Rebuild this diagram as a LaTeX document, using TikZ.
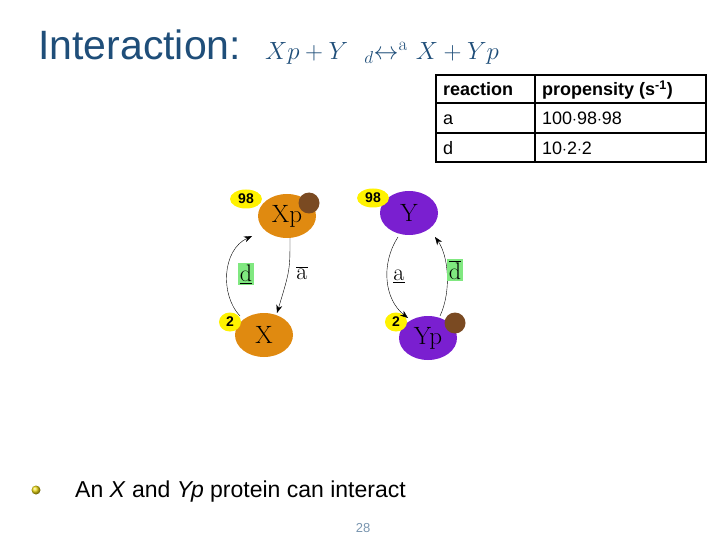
\documentclass[tikz,border=0pt]{standalone}
\usepackage{fontspec}
\setsansfont{Liberation Sans}
\usetikzlibrary{shapes.geometric,arrows.meta}
\definecolor{ttl}{HTML}{1F4E79}
\definecolor{org}{HTML}{E08A10}
\definecolor{pur}{HTML}{7A1FD0}
\definecolor{brn}{HTML}{7A4A22}
\definecolor{grn}{HTML}{80E880}
\begin{document}
\begin{tikzpicture}[x=1pt,y=-1pt,
 prot/.style={ellipse,minimum width=58pt,minimum height=44pt,inner sep=0pt,font=\fontsize{25}{25}\selectfont},
 cnt/.style={ellipse,fill=yellow,minimum width=32pt,minimum height=19pt,inner sep=0pt,font=\sffamily\bfseries\fontsize{14}{14}\selectfont},
 ball/.style={circle,fill=brn,minimum size=21pt,inner sep=0pt},
 arr/.style={-{Stealth[length=8pt,width=6pt]},thin},
 lab/.style={font=\fontsize{24}{24}\selectfont,inner sep=2pt},
 cell/.style={font=\sffamily\fontsize{18}{18}\selectfont,anchor=base west,inner sep=0pt}]
\useasboundingbox (0,0) rectangle (720,540);
\node[anchor=base west,text=ttl,font=\sffamily\fontsize{41}{41}\selectfont,inner sep=0] (t) at (38,60) {Interaction:};
\node[anchor=base west,text=ttl,font=\fontsize{27}{27}\selectfont,inner sep=0] (f) at (265,60) {$Xp+Y\ \ _{d}{\leftrightarrow}^{\mathrm{a}}\ X+Yp$};
% table
\draw[line width=1.5pt] (436,75) rectangle (706,162);
\draw[line width=1.2pt] (436,103)--(706,103) (436,133)--(706,133) (535,75)--(535,162);
\node[cell,font=\sffamily\bfseries\fontsize{18}{18}\selectfont] (r0) at (443,96) {reaction};
\node[cell,font=\sffamily\bfseries\fontsize{18}{18}\selectfont] (p0) at (542,96) {propensity (s\textsuperscript{-1})};
\node[cell] (r1) at (443,125) {a};
\node[cell] (p1) at (542,125) {100$\cdot$98$\cdot$98};
\node[cell] (r2) at (443,155) {d};
\node[cell] (p2) at (542,155) {10$\cdot$2$\cdot$2};
% proteins
\node[prot,fill=org] (Xp) at (287,216) {Xp};
\node[ball] (bXp) at (309,203) {};
\node[cnt] (c1) at (246,199) {98};
\node[prot,fill=pur] (Y) at (409,213) {Y};
\node[cnt] (c2) at (373,198) {98};
\node[prot,fill=org] (X) at (264,335) {X};
\node[cnt,minimum width=22pt] (c3) at (230,322) {2};
\node[prot,fill=pur] (Yp) at (428,338) {Yp};
\node[ball] (bYp) at (455,323) {};
\node[cnt,minimum width=22pt] (c4) at (396,322) {2};
% arrows
\coordinate (x1) at (240,316); \coordinate (x2) at (252,236);
\draw[arr] (x1) .. controls (220,295) and (222,250) .. (x2);
\coordinate (a1) at (290,238); \coordinate (a2) at (277,313);
\draw[arr] (a1) .. controls (290,270) .. (a2);
\coordinate (y1) at (398,237); \coordinate (y2) at (408,318);
\draw[arr] (y1) .. controls (380,265) and (385,300) .. (y2);
\coordinate (z1) at (440,316); \coordinate (z2) at (435,237);
\draw[arr] (z1) .. controls (452,290) and (448,255) .. (z2);
\node[lab,fill=grn] (ld) at (246,274) {\underline{d}};
\node[lab] (la) at (302,273) {$\overline{\mathrm{a}}$};
\node[lab] (lb) at (399,276) {\underline{a}};
\node[lab,fill=grn] (le) at (455,270) {$\overline{\mathrm{d}}$};
% bullet
\shade[ball color=yellow!70!brown] (36,490) circle (4.5pt);
\node[anchor=base west,inner sep=0,font=\sffamily\fontsize{23}{23}\selectfont] (b) at (75,497) {An \textit{X} and \textit{Yp} protein can interact};
\node[text=ttl!60,font=\sffamily\fontsize{13}{13}\selectfont] (pg) at (363,528) {28};
\end{tikzpicture}
\end{document}
